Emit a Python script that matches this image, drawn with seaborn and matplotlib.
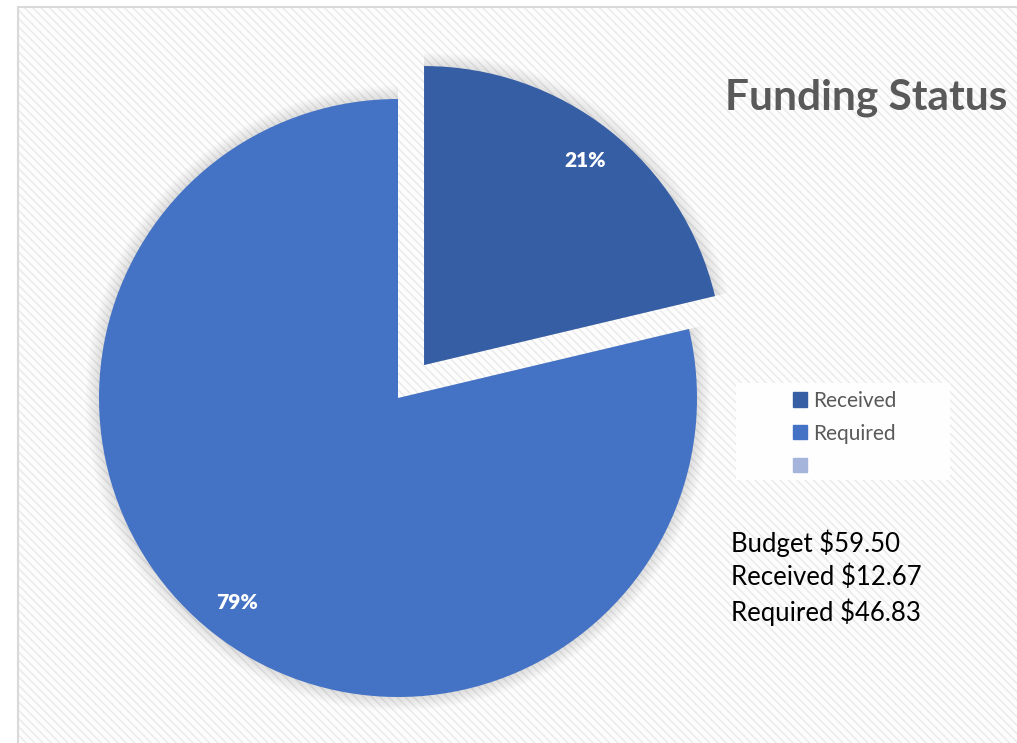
import matplotlib
matplotlib.use('Agg')
import matplotlib.pyplot as plt
import matplotlib.patches as mpatches
import seaborn as sns

# данные
labels = ['Received', 'Required']
amounts = [12.67, 46.83]
budget = 59.50
colors = ['#365EA4', '#4472C4', '#A5B4DB']

sns.set_style('white')
plt.rcParams['font.family'] = ['Lato', 'DejaVu Sans']
plt.rcParams['hatch.linewidth'] = 1.1

W, H = 1017, 743
fig = plt.figure(figsize=(W / 100, H / 100), dpi=100)
ax = fig.add_axes([0, 0, 1, 1])


def py(y):  # пиксели сверху -> координаты снизу
    return H - y


cx, cy, r = 398, py(398), 299

wedges, texts, autotexts = ax.pie(
    amounts, colors=colors[:2], startangle=90, counterclock=False,
    explode=[42, 0], center=(cx, cy), radius=r, autopct='%1.0f%%',
    pctdistance=0.87, frame=True,
    textprops=dict(color='white', fontsize=15, fontweight='heavy'),
    wedgeprops=dict(linewidth=0, zorder=3))
ax.set_xlim(0, W)
ax.set_ylim(0, H)
ax.set_aspect('equal')
ax.axis('off')
for t in autotexts:
    t.set_zorder(5)

# фон с диагональной штриховкой (1 символ = 6 линий на дюйм)
ax.add_patch(mpatches.Rectangle((18, -5), W, py(7) + 5, facecolor='#fdfdfd',
                                edgecolor='#ebebeb', lw=0, hatch='\\' * 4, zorder=0))
ax.add_patch(mpatches.Rectangle((18, -5), W, py(7) + 5, facecolor='none',
                                edgecolor='#d9d9d9', lw=1.5, zorder=1))

# мягкая тень вокруг секторов
for w in wedges:
    for i in range(10):
        ax.add_patch(mpatches.Wedge(w.center, w.r + 1 + i * 1.4, w.theta1, w.theta2,
                                    color='black', alpha=0.012, lw=0, zorder=2))

ax.text(725, py(98), 'Funding Status', fontsize=30.5, fontweight='bold',
        color='#595959', va='center', ha='left', zorder=6)

# легенда
ax.add_patch(mpatches.Rectangle((736, py(480)), 214, 97, facecolor='white',
                                edgecolor='none', alpha=0.92, zorder=4))
handles = [mpatches.Patch(color=c) for c in colors]
leg = ax.legend(handles, labels + [''], loc='upper left',
                bbox_to_anchor=(774 / W, 1 - 372 / H), frameon=False,
                fontsize=15, handlelength=0.67, handleheight=0.67,
                handletextpad=0.29, labelspacing=0.62, labelcolor='#595959')

lines = ['Budget ${:.2f}'.format(budget)] + \
        ['{} ${:.2f}'.format(l, a) for l, a in zip(labels, amounts)]
for i, s in enumerate(lines):
    ax.text(731, py(543 + i * 34.5), s, fontsize=18.5, color='black', va='center', ha='left', zorder=6)

fig.savefig('out.png', dpi=100)
